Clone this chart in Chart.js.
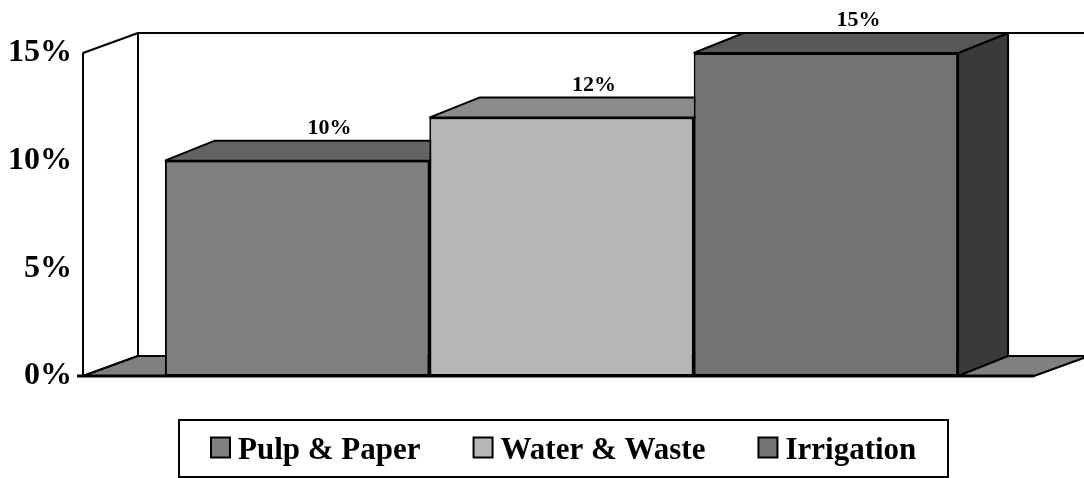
<!DOCTYPE html>
<html>
<head>
<meta charset="utf-8">
<script src="https://cdn.jsdelivr.net/npm/chart.js@4.4.1/dist/chart.umd.min.js"></script>
<style>
  html, body { margin: 0; padding: 0; background: #ffffff; }
  #wrap { width: 1084px; height: 478px; }
</style>
</head>
<body>
<div id="wrap"><canvas id="c" width="1084" height="478"></canvas></div>
<script>
// Chart data
const categories = [''];
const seriesNames = ['Pulp & Paper', 'Water & Waste', 'Irrigation'];
const seriesValues = [10, 12, 15];
const yTicks = [0, 5, 10, 15];

// Shading per series: front face, top face, side face
const frontColors = ['#808080', '#b6b6b6', '#737373'];
const topColors = ['#636363', '#8b8b8b', '#585858'];
const sideColors = ['#4a4a4a', '#6e6e6e', '#3a3a3a'];

const SERIF = '"Liberation Serif", "Times New Roman", serif';
const WALL_DX = 55, WALL_DY = -20;   // depth of the walls / floor
const WALL_SHIFT = -3;               // walls sit slightly left of the plot box
const BAR_DX = 50, BAR_DY = -20;     // depth of each bar

function poly(ctx, pts, fill, lw) {
  ctx.beginPath();
  ctx.moveTo(pts[0][0], pts[0][1]);
  for (let i = 1; i < pts.length; i++) ctx.lineTo(pts[i][0], pts[i][1]);
  ctx.closePath();
  if (fill) { ctx.fillStyle = fill; ctx.fill(); }
  ctx.lineWidth = lw || 2;
  ctx.strokeStyle = '#000';
  ctx.lineJoin = 'bevel';
  ctx.stroke();
}

// Walls, floor and the top / side faces of the 3-D bars
const box3d = {
  id: 'box3d',
  beforeDatasetsDraw(chart) {
    const ctx = chart.ctx;
    const a = chart.chartArea;
    const y = chart.scales.y;
    const T = y.getPixelForValue(yTicks[yTicks.length - 1]);
    const B = y.getPixelForValue(0);
    const L = a.left + WALL_SHIFT, R = a.right + WALL_SHIFT;
    ctx.save();
    // left side wall
    poly(ctx, [[L, B], [L, T], [L + WALL_DX, T + WALL_DY], [L + WALL_DX, B + WALL_DY]], '#ffffff', 2);
    // back wall top edge
    ctx.beginPath();
    ctx.moveTo(L + WALL_DX, T + WALL_DY);
    ctx.lineTo(R + WALL_DX, T + WALL_DY);
    ctx.lineWidth = 2; ctx.strokeStyle = '#000'; ctx.stroke();
    // floor
    poly(ctx, [[L, B], [R, B], [R + WALL_DX, B + WALL_DY], [L + WALL_DX, B + WALL_DY]], '#808080', 2);

    // bar tops and sides
    chart.data.datasets.forEach((ds, i) => {
      const meta = chart.getDatasetMeta(i);
      meta.data.forEach((bar) => {
        const x0 = bar.x - bar.width / 2, x1 = bar.x + bar.width / 2;
        const top = bar.y, base = bar.base;
        poly(ctx, [[x1, base], [x1, top], [x1 + BAR_DX, top + BAR_DY], [x1 + BAR_DX, base + BAR_DY]], sideColors[i], 2);
        poly(ctx, [[x0, top], [x0 + BAR_DX, top + BAR_DY], [x1 + BAR_DX, top + BAR_DY], [x1, top]], topColors[i], 2);
      });
    });
    ctx.restore();
  },
  afterDatasetsDraw(chart) {
    const ctx = chart.ctx;
    const a = chart.chartArea;
    const B = chart.scales.y.getPixelForValue(0);
    ctx.save();
    // front floor edge with the 0% tick
    ctx.beginPath();
    ctx.moveTo(a.left + WALL_SHIFT - 6, B);
    ctx.lineTo(a.right + WALL_SHIFT, B);
    ctx.lineWidth = 3; ctx.strokeStyle = '#000'; ctx.stroke();
    // value labels
    ctx.fillStyle = '#000';
    ctx.font = 'bold 22px ' + SERIF;
    ctx.textAlign = 'center';
    ctx.textBaseline = 'alphabetic';
    chart.data.datasets.forEach((ds, i) => {
      chart.getDatasetMeta(i).data.forEach((bar, j) => {
        ctx.fillText(ds.data[j] + '%', bar.x + BAR_DX * 0.65, bar.y + BAR_DY - 7);
      });
    });
    ctx.restore();
  },
  afterDraw(chart) {
    // boxed legend below the plot
    const ctx = chart.ctx;
    const a = chart.chartArea;
    ctx.save();
    ctx.font = 'bold 31px ' + SERIF;
    const sw = 19, gapText = 8, gapItem = 53, margin = 32;
    const widths = chart.data.datasets.map(ds => ctx.measureText(ds.label).width);
    const content = widths.reduce((s, w) => s + w + sw + gapText, 0) + gapItem * (widths.length - 1);
    const boxW = content + margin * 2;
    const cx = (a.left + a.right) / 2 + 2;
    const bx = Math.round(cx - boxW / 2), by = 420, bh = 57;
    ctx.lineWidth = 2; ctx.strokeStyle = '#000';
    ctx.strokeRect(bx, by, Math.round(boxW), bh);
    let x = bx + margin;
    const midY = by + bh / 2;
    ctx.textBaseline = 'alphabetic';
    ctx.textAlign = 'left';
    chart.data.datasets.forEach((ds, i) => {
      ctx.fillStyle = frontColors[i];
      ctx.fillRect(x, midY - 11, sw, sw + 1);
      ctx.lineWidth = 2; ctx.strokeStyle = '#000';
      ctx.strokeRect(x, midY - 11, sw, sw + 1);
      ctx.fillStyle = '#000';
      ctx.fillText(ds.label, x + sw + gapText, midY + 10);
      x += sw + gapText + widths[i] + gapItem;
    });
    ctx.restore();
  }
};

const datasets = seriesNames.map((name, i) => ({
  label: name,
  data: [seriesValues[i]],
  backgroundColor: frontColors[i],
  borderColor: '#000',
  borderWidth: 2,
  borderSkipped: false,
  barPercentage: 1.0,
  categoryPercentage: 0.834
}));

new Chart(document.getElementById('c'), {
  type: 'bar',
  data: { labels: categories, datasets },
  options: {
    responsive: false,
    devicePixelRatio: 1,
    animation: false,
    layout: { padding: { left: 10, right: 47, top: 53, bottom: 102 } },
    plugins: { legend: { display: false }, tooltip: { enabled: false } },
    scales: {
      x: { display: false, offset: true },
      y: {
        min: 0, max: 15,
        grid: { display: false, drawTicks: false },
        border: { display: false },
        afterBuildTicks(s) { s.ticks = yTicks.map(v => ({ value: v })); },
        afterFit(s) { s.width = 76; },
        ticks: {
          padding: 14,
          color: '#000',
          font: { family: SERIF, size: 32, weight: 'bold' },
          callback: v => v + '%'
        }
      }
    }
  },
  plugins: [box3d]
});
</script>
</body>
</html>
